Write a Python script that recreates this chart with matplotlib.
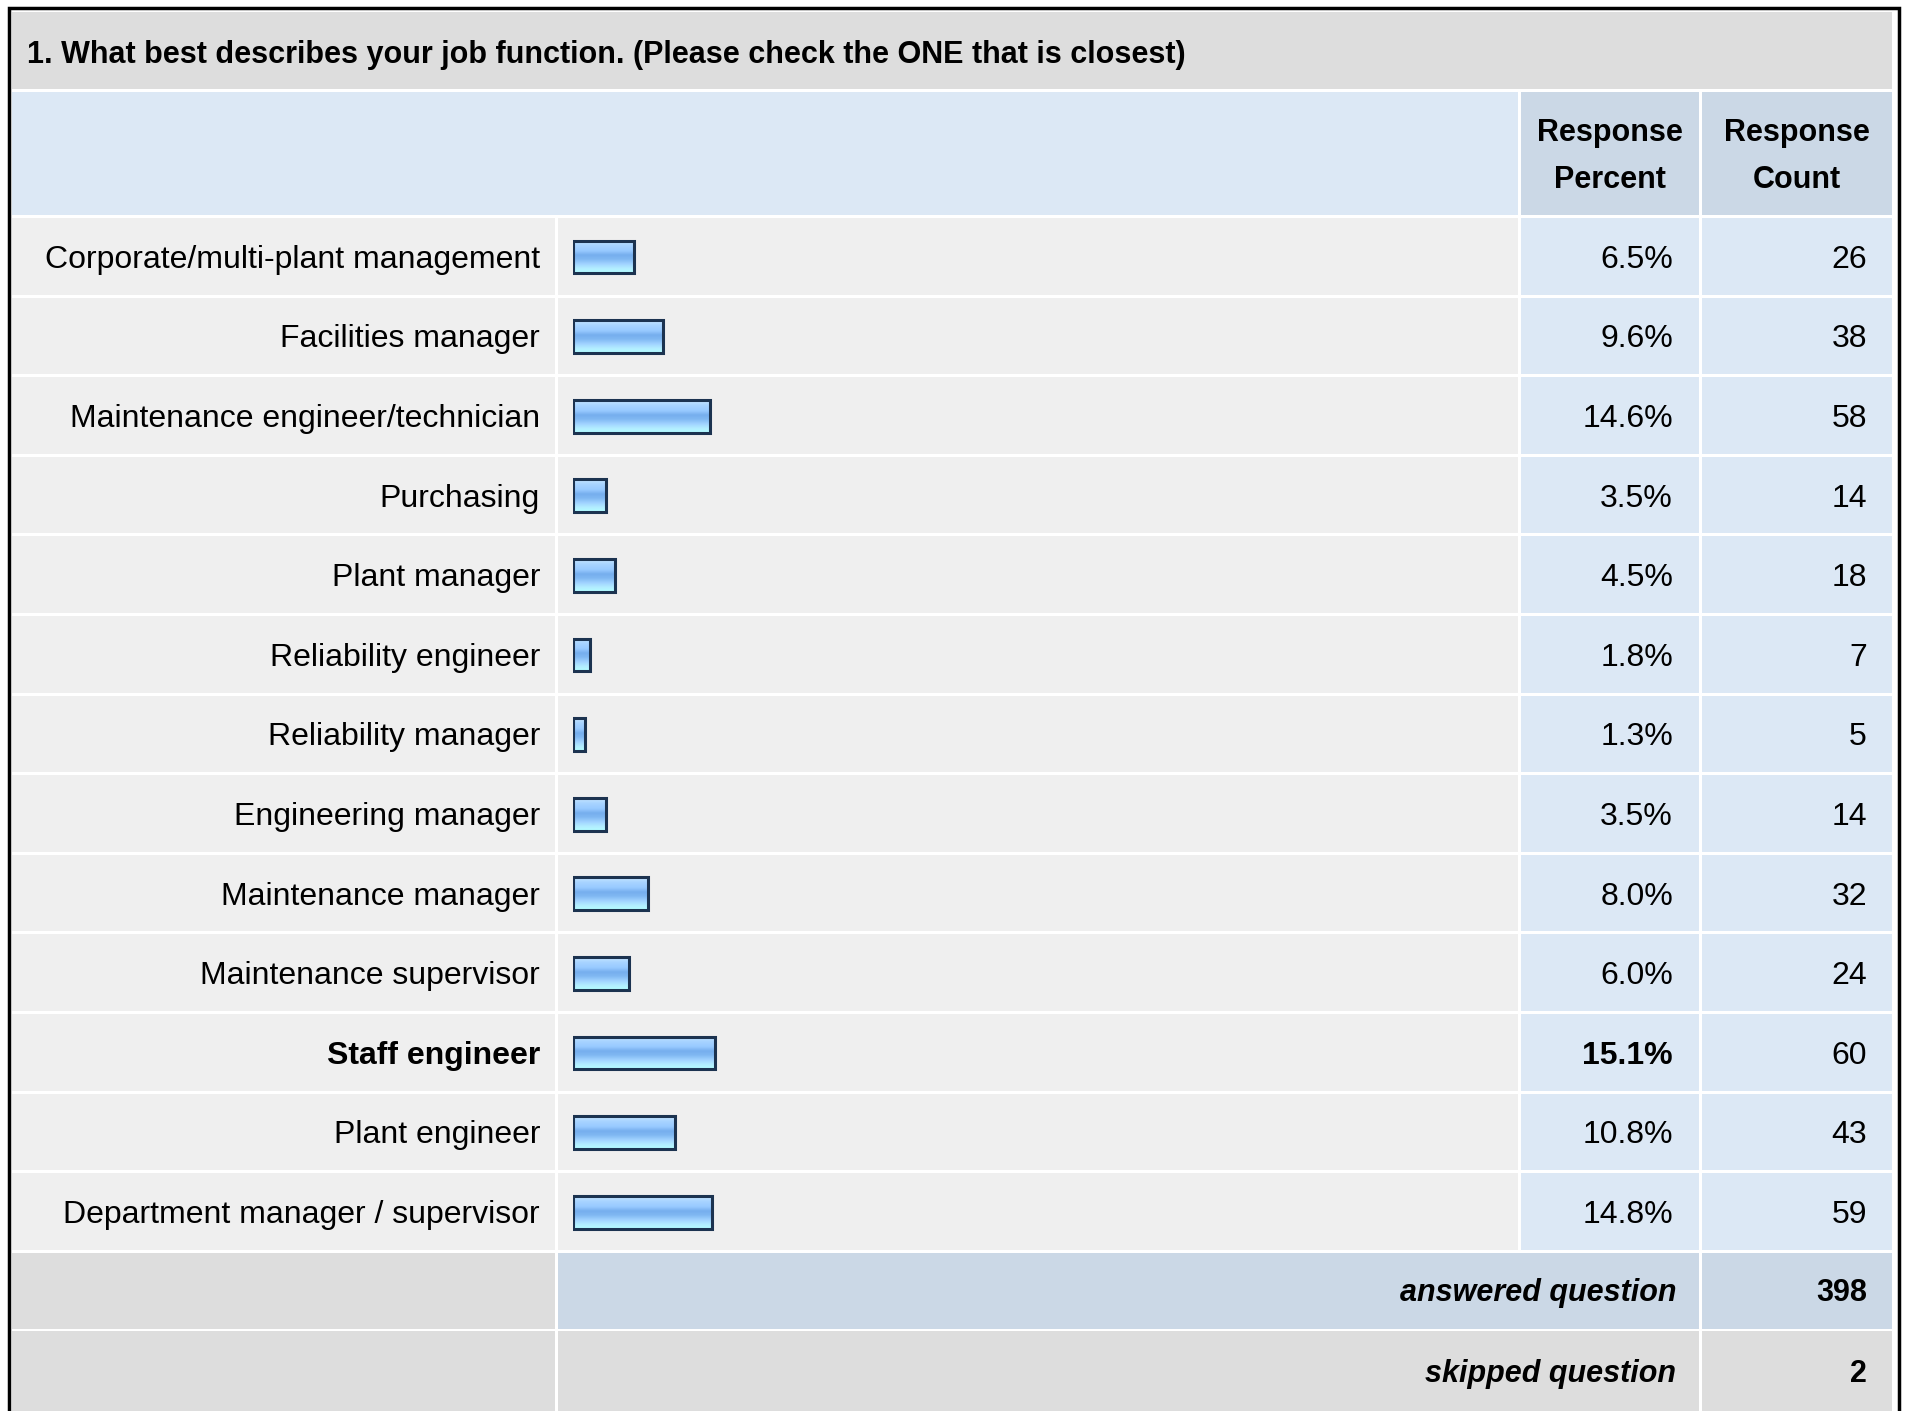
import numpy as np
import matplotlib.pyplot as plt
from matplotlib.patches import Rectangle
from matplotlib.colors import LinearSegmentedColormap

plt.rcParams['font.family'] = ['Liberation Sans', 'DejaVu Sans']

# данные опроса
title = "1. What best describes your job function. (Please check the ONE that is closest)"
categories = [
    "Corporate/multi-plant management",
    "Facilities manager",
    "Maintenance engineer/technician",
    "Purchasing",
    "Plant manager",
    "Reliability engineer",
    "Reliability manager",
    "Engineering manager",
    "Maintenance manager",
    "Maintenance supervisor",
    "Staff engineer",
    "Plant engineer",
    "Department manager / supervisor",
]
percent = [6.5, 9.6, 14.6, 3.5, 4.5, 1.8, 1.3, 3.5, 8.0, 6.0, 15.1, 10.8, 14.8]
counts = [26, 38, 58, 14, 18, 7, 5, 14, 32, 24, 60, 43, 59]
highlight = "Staff engineer"
answered = 398
skipped = 2

W, H = 1907, 1411
FS = 23
FS_T = 22

# цвета
c_row = '#efefef'
c_gray = '#dddddd'
c_light = '#dce8f5'
c_head = '#cbd8e6'
c_border = '#1c3350'

# колонки и строки таблицы (пиксели)
x0, x1, x2, x3, x4 = 12, 558, 1521, 1702, 1892
gap = 3
title_top, title_bot = 12, 89
head_top, head_bot = 92, 215
rows_top = 218
pitch = 79.6
n = len(categories)
rows_bot = rows_top + n * pitch
ans_top, ans_bot = rows_bot, rows_bot + 76
skp_top, skp_bot = ans_bot + 2, H + 5

fig = plt.figure(figsize=(W / 100, H / 100), dpi=100)
fig.patch.set_facecolor('white')
ax = fig.add_axes([0, 0, 1, 1])
ax.set_xlim(0, W)
ax.set_ylim(H, 0)
ax.axis('off')


def cell(xa, xb, ya, yb, color):
    ax.add_patch(Rectangle((xa, ya), xb - xa - gap, yb - ya - gap,
                           facecolor=color, edgecolor='none'))


# рамка
ax.add_patch(Rectangle((8.5, 7.5), x4 + gap - 5, H, facecolor='white',
                       edgecolor='black', lw=2.5, zorder=0))

cell(x0, x4 + gap, title_top, title_bot + gap, c_gray)
ax.text(27, (title_top + title_bot) / 2 + 4, title, fontsize=FS_T, fontweight='bold',
        va='center', ha='left')

cell(x0, x2, head_top, head_bot + gap, c_light)
cell(x2, x3, head_top, head_bot + gap, c_head)
cell(x3, x4 + gap, head_top, head_bot + gap, c_head)
hy = (head_top + head_bot) / 2 + 3
for xc, t in [((x2 + x3 - gap) / 2, "Response\nPercent"),
              ((x3 + x4) / 2, "Response\nCount")]:
    ax.text(xc, hy, t, fontsize=FS_T, fontweight='bold', ha='center',
            va='center', linespacing=1.72)

for i, (lab, p, c) in enumerate(zip(categories, percent, counts)):
    ya = rows_top + i * pitch
    yb = ya + pitch
    cell(x0, x1, ya, yb, c_row)
    cell(x1, x2, ya, yb, c_row)
    cell(x2, x3, ya, yb, c_light)
    cell(x3, x4 + gap, ya, yb, c_light)
    yc = ya + pitch / 2 + 2
    fw = 'bold' if lab == highlight else 'normal'
    ax.text(540, yc, lab, fontsize=FS, fontweight=fw, ha='right', va='center')
    ax.text(1673, yc, f"{p:.1f}%", fontsize=FS, fontweight=fw, ha='right', va='center')
    ax.text(1867, yc, str(c), fontsize=FS, ha='right', va='center')

cell(x0, x1, ans_top, ans_bot + gap, c_gray)
cell(x1, x3, ans_top, ans_bot + gap, c_head)
cell(x3, x4 + gap, ans_top, ans_bot + gap, c_head)
cell(x0, x1, skp_top, skp_bot, c_gray)
cell(x1, x3, skp_top, skp_bot, c_gray)
cell(x3, x4 + gap, skp_top, skp_bot, c_gray)
ya = (ans_top + ans_bot) / 2 + 2
ys = (skp_top + 1411) / 2 + 3
ax.text(1676, ya, "answered question", fontsize=FS_T, fontweight='bold',
        style='italic', ha='right', va='center')
ax.text(1867, ya, str(answered), fontsize=FS_T, fontweight='bold', ha='right', va='center')
ax.text(1676, ys, "skipped question", fontsize=FS_T, fontweight='bold',
        style='italic', ha='right', va='center')
ax.text(1867, ys, str(skipped), fontsize=FS_T, fontweight='bold', ha='right', va='center')

# столбики
bl, bw = 573, 940
bx = fig.add_axes([bl / W, 1 - rows_bot / H, bw / W, (rows_bot - rows_top) / H])
bx.set_xlim(0, 100)
bx.set_ylim(n - 0.5, -0.5)
bx.axis('off')
bx.patch.set_alpha(0)
y = np.arange(n)
bars = bx.barh(y - 0.01, percent, height=0.41, facecolor='#8fc2f8',
               edgecolor=c_border, linewidth=2.2, zorder=3)

grad = LinearSegmentedColormap.from_list('bar', [
    (0.0, '#c8e6ff'), (0.15, '#a8d4ff'), (0.32, '#98caff'),
    (0.45, '#76aeee'), (0.58, '#80b8f2'), (0.72, '#a0d2ff'),
    (0.86, '#b2ecff'), (1.0, '#b4ffff')])
g = np.linspace(0, 1, 64).reshape(-1, 1)
for b in bars:
    bb = b.get_bbox()
    im = bx.imshow(g, cmap=grad, aspect='auto', zorder=2,
                   extent=[bb.x0, bb.x1, bb.y1, bb.y0], interpolation='bilinear')
    im.set_clip_path(b)
    b.set_facecolor('none')
bx.set_xlim(0, 100)
bx.set_ylim(n - 0.5, -0.5)

fig.savefig('out.png', dpi=100)
